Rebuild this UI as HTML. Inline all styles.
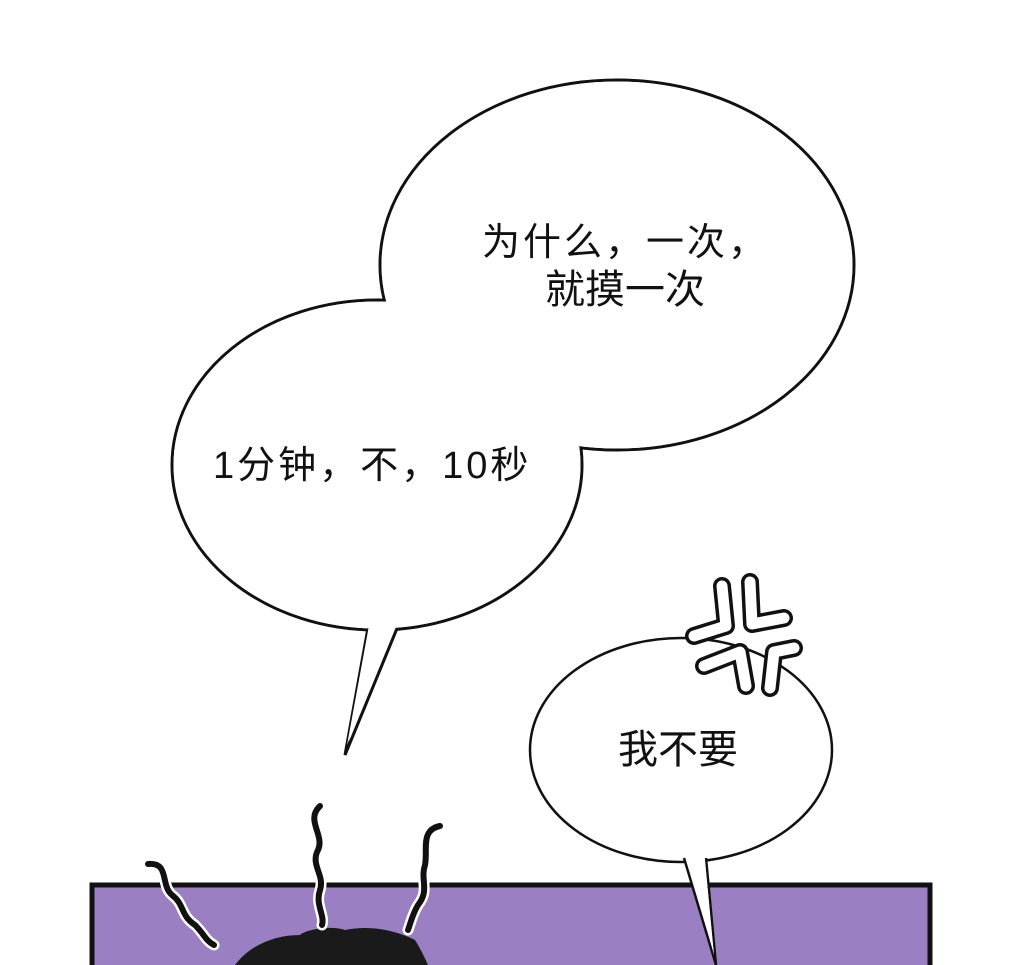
<!DOCTYPE html>
<html><head><meta charset="utf-8"><style>
html,body{margin:0;padding:0;background:#fff;}
body{width:1020px;height:965px;overflow:hidden;position:relative;font-family:"Liberation Sans","Noto Sans CJK SC",sans-serif;}
.t{position:absolute;font-size:38px;color:#111;white-space:nowrap;line-height:1;}
</style></head><body>
<svg width="1020" height="965" style="position:absolute;left:0;top:0">
<rect x="92" y="885" width="838" height="90" fill="#9a80c2" stroke="#111" stroke-width="5"/>
<path d="M235,965 C250,945 275,935 300,935 C305,930 330,925 345,930 C370,925 395,930 415,940 C420,948 425,958 428,965 Z" fill="#1a1a1a"/>
<g fill="none" stroke-linecap="round">
<g stroke="#fff" stroke-width="11">
<path d="M148,864 C170,862 160,885 172,895 C185,905 180,915 195,925 C205,935 205,940 214,945"/>
<path d="M320,806 C305,820 325,835 318,850 C310,865 325,875 320,890 C315,905 325,915 322,925"/>
<path d="M440,826 C420,830 428,850 425,865 C420,880 430,890 418,905 C412,915 410,925 408,930"/>
</g>
<g stroke="#111" stroke-width="6">
<path d="M148,864 C170,862 160,885 172,895 C185,905 180,915 195,925 C205,935 205,940 214,945"/>
<path d="M320,806 C305,820 325,835 318,850 C310,865 325,875 320,890 C315,905 325,915 322,925"/>
<path d="M440,826 C420,830 428,850 425,865 C420,880 430,890 418,905 C412,915 410,925 408,930"/>
</g>
</g>
<g stroke="#111" stroke-width="3" fill="#fff">
<ellipse cx="617" cy="265" rx="237" ry="185"/>
<ellipse cx="377" cy="465" rx="205" ry="165"/>
<path d="M368,628 L345,755 L398,626"/>
</g>
<g fill="#fff">
<ellipse cx="617" cy="265" rx="235.5" ry="183.5"/>
<ellipse cx="377" cy="465" rx="203.5" ry="163.5"/>
<path d="M370,620 L347,745 L396,620Z"/>
</g>
<g stroke="#111" stroke-width="2.5" fill="#fff">
<ellipse cx="681" cy="750" rx="151" ry="112"/>
<path d="M684,858 L716,965 L706,858"/>
</g>
<path d="M686,850 L714,955 L704,850Z" fill="#fff"/>
<g fill="none" stroke-linecap="round" stroke-linejoin="round">
<g stroke="#111" stroke-width="18">
<path d="M722,586 L726,626 L694,636"/>
<path d="M750,582 L752,624 L784,618"/>
<path d="M704,666 L740,652 L746,686"/>
<path d="M770,688 L774,652 L794,648"/>
</g>
<g stroke="#fff" stroke-width="11">
<path d="M722,586 L726,626 L694,636"/>
<path d="M750,582 L752,624 L784,618"/>
<path d="M704,666 L740,652 L746,686"/>
<path d="M770,688 L774,652 L794,648"/>
</g>
</g>
</svg>
<div class="t" style="left:482px;top:224px;letter-spacing:3px;">为什么，一次，</div>
<div class="t" style="left:545px;top:270px;font-size:40px;">就摸一次</div>
<div class="t" style="left:213px;top:447px;letter-spacing:3px;">1分钟，不，10秒</div>
<div class="t" style="left:618px;top:730px;font-size:40px;">我不要</div>
</body></html>
